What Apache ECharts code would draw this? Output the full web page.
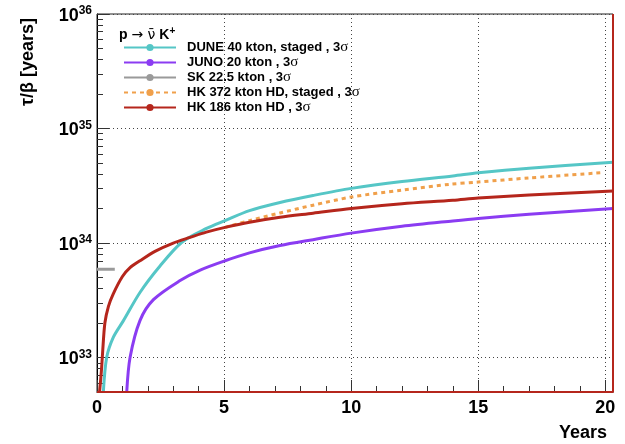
<!DOCTYPE html>
<html><head><meta charset="utf-8">
<script src="https://cdn.jsdelivr.net/npm/echarts@6/dist/echarts.min.js"></script>
<style>html,body{margin:0;padding:0;background:#fff}#c{width:625px;height:444px}</style>
</head><body><div id="c"></div>
<script>
// ---- data ----
const seriesNames = ['DUNE 40 kton, staged , 3σ', 'JUNO 20 kton , 3σ', 'SK 22.5 kton , 3σ', 'HK 372 kton HD, staged , 3σ', 'HK 186 kton HD , 3σ'];

const duneYears = [0.25, 0.38, 0.64, 1.04, 1.69, 2.48, 3.35, 4.31, 5.04, 6.0, 7.2, 8.5, 10, 12, 14, 15, 17, 20.3];
const duneTau   = [5e32, 1e33, 1.5e33, 2.1e33, 3.7e33, 6.3e33, 1.02e34, 1.34e34, 1.57e34, 1.92e34, 2.26e34, 2.6e34, 3.0e34, 3.45e34, 3.85e34, 4.1e34, 4.5e34, 5.07e34];

const junoYears = [1.17, 1.3, 1.69, 2.22, 3.27, 4.06, 5.04, 6.0, 7.2, 8.5, 10, 12, 14, 15, 17, 20.3];
const junoTau   = [5e32, 1e33, 2.1e33, 3.2e33, 4.7e33, 5.8e33, 7.0e33, 8.2e33, 9.5e33, 1.07e34, 1.22e34, 1.4e34, 1.56e34, 1.64e34, 1.78e34, 2.0e34];

const skYears = [0, 0.7];
const skTau   = [5.9e33, 5.9e33];

const hk372Years = [5.04, 6.0, 7.2, 8.5, 10, 12, 13.9, 15, 17, 19.9];
const hk372Tau   = [1.37e34, 1.57e34, 1.83e34, 2.14e34, 2.52e34, 2.9e34, 3.26e34, 3.41e34, 3.7e34, 4.12e34];

const hk186Years = [0.1, 0.17, 0.22, 0.31, 0.45, 0.64, 1.0, 1.3, 1.69, 2.3, 3.0, 3.66, 4.3, 5.04, 6.0, 7.2, 8.5, 10, 12, 14, 15, 17, 20.3];
const hk186Tau   = [5e32, 7.5e32, 1.1e33, 2e33, 2.8e33, 3.6e33, 5.1e33, 6.1e33, 7.0e33, 8.5e33, 1.0e34, 1.12e34, 1.245e34, 1.37e34, 1.52e34, 1.68e34, 1.82e34, 2.0e34, 2.2e34, 2.36e34, 2.47e34, 2.62e34, 2.85e34];

// closing outline of the HK 186 graph (bottom edge and right edge)
const hk186EdgeYears = [20.3, 20.3, 0];
const hk186EdgeTau   = [1e36, 5e32, 5e32];

const xMajorTicks = [0, 5, 10, 15, 20];
const xMinorTicks = [1, 2, 3, 4, 6, 7, 8, 9, 11, 12, 13, 14, 16, 17, 18, 19];
const yMajorTicks = [1e33, 1e34, 1e35, 1e36];
const yMinorTicks = [6e32, 7e32, 8e32, 9e32,
  2e33, 3e33, 4e33, 5e33, 6e33, 7e33, 8e33, 9e33,
  2e34, 3e34, 4e34, 5e34, 6e34, 7e34, 8e34, 9e34,
  2e35, 3e35, 4e35, 5e35, 6e35, 7e35, 8e35, 9e35];

const xTitle = 'Years';
const yTitle = 'τ/β [years]';

// ---- chart ----
const FONT = '"Liberation Sans", Arial, Helvetica, sans-serif';
const colors = ['#55c6c6', '#8b3cf2', '#9a9a9a', '#f0a04b', '#b5261c'];
const zip = (xs, ys) => xs.map((x, i) => [x, ys[i]]);

const chart = echarts.init(document.getElementById('c'), null, {renderer: 'canvas'});

function lineSeries(idx, xs, ys, extra) {
  return Object.assign({
    name: seriesNames[idx], type: 'line', data: zip(xs, ys),
    xAxisIndex: 0, yAxisIndex: 0,
    symbol: 'circle', symbolSize: 7, showSymbol: false, smooth: 0.3,
    lineStyle: {width: 3, color: colors[idx]}, itemStyle: {color: colors[idx]},
    emphasis: {disabled: true}, silent: true, z: 3 + idx
  }, extra || {});
}

const yMin = 5e32, yMax = 1.000001e36, xMin = 0, xMax = 20.3;

chart.setOption({
  animation: false,
  backgroundColor: '#fff',
  textStyle: {fontFamily: FONT},
  grid: {left: 97, right: 12, top: 14, bottom: 52, show: true, borderColor: '#222', borderWidth: 1},
  title: {
    text: '{a|p }{n|→ ν̄}{a| K}{s|+}', left: 119, top: 26, padding: 0,
    textStyle: {
      rich: {
        a: {fontFamily: FONT, fontSize: 14, fontWeight: 'bold', color: '#000', lineHeight: 16, padding: [3, 0, 0, 0]},
        n: {fontFamily: '"DejaVu Sans", sans-serif', fontSize: 14, fontWeight: 'normal', color: '#000', lineHeight: 16, padding: [3, 0, 0, 0]},
        s: {fontFamily: FONT, fontSize: 10, fontWeight: 'bold', color: '#000', lineHeight: 10, verticalAlign: 'top'}
      }
    }
  },
  legend: {
    data: seriesNames, orient: 'vertical', left: 123, top: 40, padding: 0,
    itemWidth: 52, itemHeight: 9, itemGap: 0,
    formatter: name => name.replace('σ', '{g|σ}'),
    textStyle: {
      fontFamily: FONT, fontSize: 13, fontWeight: 'bold', color: '#000', lineHeight: 14.6, padding: [0, 0, 0, 6],
      rich: {g: {fontFamily: '"Liberation Serif", "Times New Roman", serif', fontSize: 15, fontWeight: 'normal', color: '#000', lineHeight: 14.6}}
    },
    selectedMode: false
  },
  xAxis: [{
    type: 'value', min: xMin, max: xMax, position: 'bottom',
    axisLine: {show: true, lineStyle: {color: '#000', width: 1}},
    axisTick: {show: true, inside: true, length: 12, customValues: xMajorTicks, lineStyle: {color: '#333'}},
    axisLabel: {customValues: xMajorTicks, margin: 7, fontFamily: FONT, fontSize: 18, fontWeight: 'bold', color: '#000'},
    splitLine: {show: true, lineStyle: {type: [1, 3], color: '#444', width: 1}}
  }, {
    type: 'value', min: xMin, max: xMax, position: 'bottom', offset: 0,
    axisLine: {show: false},
    axisTick: {show: true, inside: true, length: 6, customValues: xMinorTicks, lineStyle: {color: '#333'}},
    axisLabel: {show: false}, splitLine: {show: false}
  }],
  yAxis: [{
    type: 'log', logBase: 10, min: yMin, max: yMax, position: 'left',
    axisLine: {show: true, lineStyle: {color: '#000', width: 1}},
    axisTick: {show: true, inside: true, length: 12, customValues: yMajorTicks, lineStyle: {color: '#333'}},
    axisLabel: {
      customValues: yMajorTicks, margin: 5, showMaxLabel: true,
      formatter: v => '{b|10}{s|' + Math.round(Math.log10(v)) + '}',
      rich: {
        b: {fontFamily: FONT, fontSize: 18, fontWeight: 'bold', color: '#000', lineHeight: 18, padding: [4, 0, 0, 0]},
        s: {fontFamily: FONT, fontSize: 12, fontWeight: 'bold', color: '#000', lineHeight: 12, verticalAlign: 'top'}
      }
    },
    splitLine: {show: true, lineStyle: {type: [1, 3], color: '#444', width: 1}}
  }, {
    type: 'log', logBase: 10, min: yMin, max: yMax, position: 'left', offset: 0,
    axisLine: {show: false},
    axisTick: {show: true, inside: true, length: 6, customValues: yMinorTicks, lineStyle: {color: '#333'}},
    axisLabel: {show: false}, splitLine: {show: false}
  }],
  graphic: [{
    type: 'text', x: 28, y: 62, rotation: Math.PI / 2,
    style: {text: yTitle, font: 'bold 18px ' + FONT, fill: '#000', align: 'center', verticalAlign: 'middle'}
  }, {
    type: 'text', right: 18, bottom: 2,
    style: {text: xTitle, font: 'bold 18px ' + FONT, fill: '#000'}
  }],
  series: [
    lineSeries(0, duneYears, duneTau),
    lineSeries(1, junoYears, junoTau),
    lineSeries(2, skYears, skTau, {smooth: false}),
    lineSeries(3, hk372Years, hk372Tau, {lineStyle: {width: 3, color: colors[3], type: [4, 4]}}),
    lineSeries(4, hk186Years, hk186Tau),
    {
      name: 'HK 186 edge', type: 'line', data: zip(hk186EdgeYears, hk186EdgeTau),
      xAxisIndex: 0, yAxisIndex: 0, showSymbol: false, smooth: false, silent: true,
      lineStyle: {width: 2, color: colors[4]}, emphasis: {disabled: true}, z: 8
    }
  ]
});
</script></body></html>
